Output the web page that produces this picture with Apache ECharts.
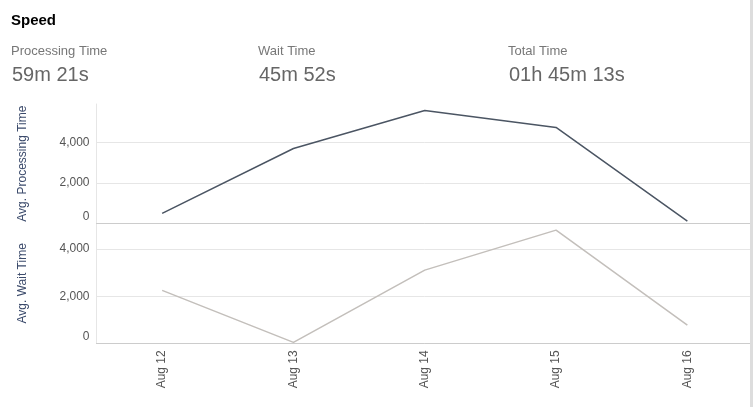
<!DOCTYPE html>
<html>
<head>
<meta charset="utf-8">
<script src="https://cdn.jsdelivr.net/npm/echarts@6/dist/echarts.min.js"></script>
<style>
  html, body { margin: 0; padding: 0; background: #fff; }
  #main { width: 753px; height: 407px; }
</style>
</head>
<body>
<div id="main"></div>
<script>
// x categories
var dates = ['Aug 12', 'Aug 13', 'Aug 14', 'Aug 15', 'Aug 16'];
// avg processing time per day
var processing = [490, 3700, 5580, 4740, 110];
// avg wait time per day
var waiting = [2250, 40, 3110, 4810, 770];
// header stats
var statNames = ['Processing Time', 'Wait Time', 'Total Time'];
var statValues = ['59m 21s', '45m 52s', '01h 45m 13s'];
var statLeft = [11, 258, 508];

var chart = echarts.init(document.getElementById('main'));

var titles = [{
  text: 'Speed',
  left: 11,
  top: 13,
  padding: 0,
  textStyle: { fontFamily: 'Liberation Sans', fontSize: 15, fontWeight: 'bold', color: '#000' }
}];
for (var i = 0; i < statNames.length; i++) {
  titles.push({
    text: statNames[i],
    left: statLeft[i],
    top: 45,
    padding: 0,
    textStyle: { fontFamily: 'Liberation Sans', fontSize: 13, fontWeight: 'normal', color: '#777' }
  });
  titles.push({
    text: statValues[i],
    left: statLeft[i] + 1,
    top: 65,
    padding: 0,
    textStyle: { fontFamily: 'Liberation Sans', fontSize: 20, fontWeight: 'normal', color: '#666' }
  });
}

// shared axis bits
var labelStyle = { fontFamily: 'Liberation Sans', fontSize: 12, color: '#555' };
var nameStyle = { fontFamily: 'Liberation Sans', fontSize: 12, color: '#3b4a6b' };

// zero label sits a bit above its line, like the original
function yLabel(v) {
  var s = echarts.format.addCommas(v);
  return v === 0 ? '{z|' + s + '}' : s;
}
var yRich = { z: { fontFamily: 'Liberation Sans', fontSize: 12, color: '#555', padding: [0, 0, 14, 0] } };

var option = {
  animation: false,
  title: titles,
  graphic: [{
    type: 'rect',
    shape: { x: 750, y: 0, width: 3, height: 407 },
    style: { fill: '#dddddd' },
    z: 100
  }],
  grid: [
    { left: 96.5, right: 0, top: 104, height: 119.3 },
    { left: 96.5, right: 0, top: 223.3, height: 120 }
  ],
  xAxis: [{
    type: 'category',
    gridIndex: 0,
    data: dates,
    boundaryGap: true,
    axisLine: { lineStyle: { color: '#cccccc' } },
    axisTick: { show: false },
    axisLabel: { show: false }
  }, {
    type: 'category',
    gridIndex: 1,
    data: dates,
    boundaryGap: true,
    axisLine: { lineStyle: { color: '#cccccc' } },
    axisTick: { show: false },
    axisLabel: Object.assign({ rotate: 90, margin: 7 }, labelStyle)
  }],
  yAxis: [{
    type: 'value',
    gridIndex: 0,
    min: 0,
    max: 5900,
    interval: 2000,
    name: 'Avg. Processing Time',
    nameLocation: 'middle',
    nameGap: 68,
    nameTextStyle: nameStyle,
    axisLine: { show: true, lineStyle: { color: '#e6e6e6' } },
    axisTick: { show: false },
    axisLabel: Object.assign({ margin: 7, showMaxLabel: false, formatter: yLabel, rich: yRich }, labelStyle),
    splitLine: { showMaxLine: false, lineStyle: { color: '#e6e6e6' } }
  }, {
    type: 'value',
    gridIndex: 1,
    min: 0,
    max: 5100,
    interval: 2000,
    name: 'Avg. Wait Time',
    nameLocation: 'middle',
    nameGap: 68,
    nameTextStyle: nameStyle,
    axisLine: { show: true, lineStyle: { color: '#e6e6e6' } },
    axisTick: { show: false },
    axisLabel: Object.assign({ margin: 7, showMaxLabel: false, formatter: yLabel, rich: yRich }, labelStyle),
    splitLine: { showMaxLine: false, lineStyle: { color: '#e6e6e6' } }
  }],
  series: [{
    name: 'Avg. Processing Time',
    type: 'line',
    xAxisIndex: 0,
    yAxisIndex: 0,
    data: processing,
    showSymbol: false,
    lineStyle: { color: '#4b5563', width: 1.5 }
  }, {
    name: 'Avg. Wait Time',
    type: 'line',
    xAxisIndex: 1,
    yAxisIndex: 1,
    data: waiting,
    showSymbol: false,
    lineStyle: { color: '#c3bfbb', width: 1.5 }
  }]
};
chart.setOption(option);
</script>
</body>
</html>
